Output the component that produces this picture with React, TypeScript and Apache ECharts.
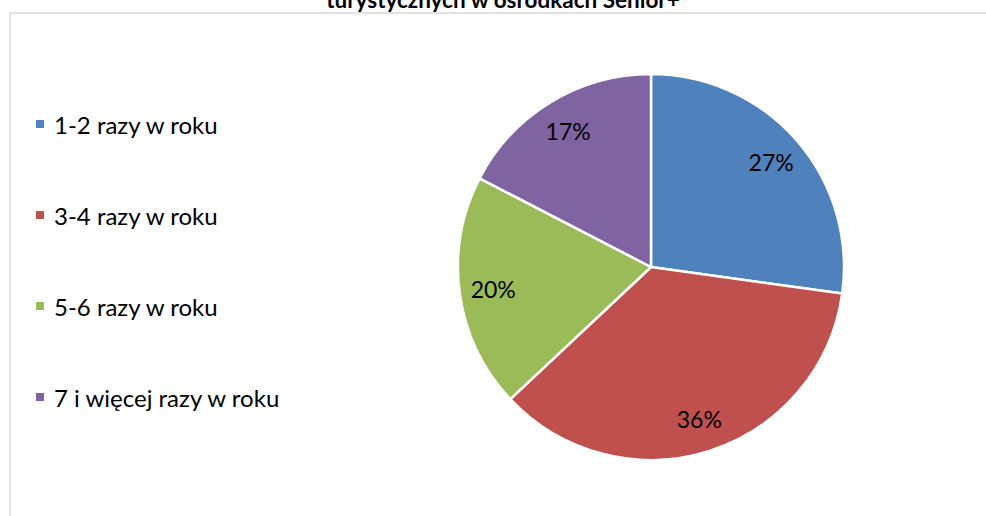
import React, { useEffect, useRef } from "react";
import * as echarts from "echarts";

const categories = ["1-2 razy w roku", "3-4 razy w roku", "5-6 razy w roku", "7 i więcej razy w roku"];
// shares (labels show them rounded)
const values = [27.2, 35.8, 19.6, 17.4];
const colors = ["#4F81BD", "#C0504D", "#9BBB59", "#8064A2"];
const titleText = "turystycznych w ośrodkach Senior+";

const FONT = "Lato, 'Open Sans', sans-serif";

export default function App() {
  const ref = useRef<HTMLDivElement>(null);
  useEffect(() => {
    if (!ref.current) return;
    const chart = echarts.init(ref.current, undefined, { renderer: "svg" });
    const R = 193;
    const center = [651, 267];
    const data = categories.map((name, i) => ({ name, value: values[i], itemStyle: { color: colors[i] } }));
    chart.setOption({
      animation: false,
      backgroundColor: "#ffffff",
      graphic: [
        { type: "line", shape: { x1: 10, y1: 13, x2: 986, y2: 13 }, style: { stroke: "#d9d9d9", lineWidth: 1.5 }, silent: true },
        { type: "line", shape: { x1: 10, y1: 13, x2: 10, y2: 516 }, style: { stroke: "#d9d9d9", lineWidth: 1.5 }, silent: true },
        {
          type: "text",
          x: 503,
          y: -1,
          style: {
            text: titleText,
            font: `bold 22.5px ${FONT}`,
            fill: "#000000",
            textAlign: "center",
            textVerticalAlign: "middle",
          },
          silent: true,
        },
      ],
      legend: {
        orient: "vertical",
        left: 34,
        top: 111,
        padding: 0,
        itemWidth: 10,
        itemHeight: 10,
        itemGap: 65,
        icon: "rect",
        data: categories,
        selectedMode: false,
        textStyle: { fontFamily: FONT, fontSize: 24, color: "#000000", lineHeight: 26, padding: [0, 0, 0, 4] },
      },
      series: [
        {
          type: "pie",
          center,
          radius: [0, R],
          startAngle: 90,
          clockwise: true,
          label: { show: false },
          labelLine: { show: false },
          itemStyle: { borderColor: "#ffffff", borderWidth: 2.5 },
          emphasis: { disabled: true },
          data,
        },
        {
          type: "pie",
          center,
          radius: [R * 0.62, R],
          startAngle: 90,
          clockwise: true,
          silent: true,
          legendHoverLink: false,
          itemStyle: { color: "rgba(0,0,0,0)", borderWidth: 0 },
          label: {
            show: true,
            position: "inside",
            formatter: (p: any) => `${Math.round(p.percent)}%`,
            fontFamily: FONT,
            fontSize: 23,
            color: "#000000",
          },
          labelLine: { show: false },
          emphasis: { disabled: true },
          data: categories.map((name, i) => ({ name, value: values[i], itemStyle: { color: "rgba(0,0,0,0)" } })),
        },
      ],
    });
    return () => chart.dispose();
  }, []);
  return <div ref={ref} style={{ position: "fixed", left: 0, top: 0, width: 986, height: 516 }} />;
}
